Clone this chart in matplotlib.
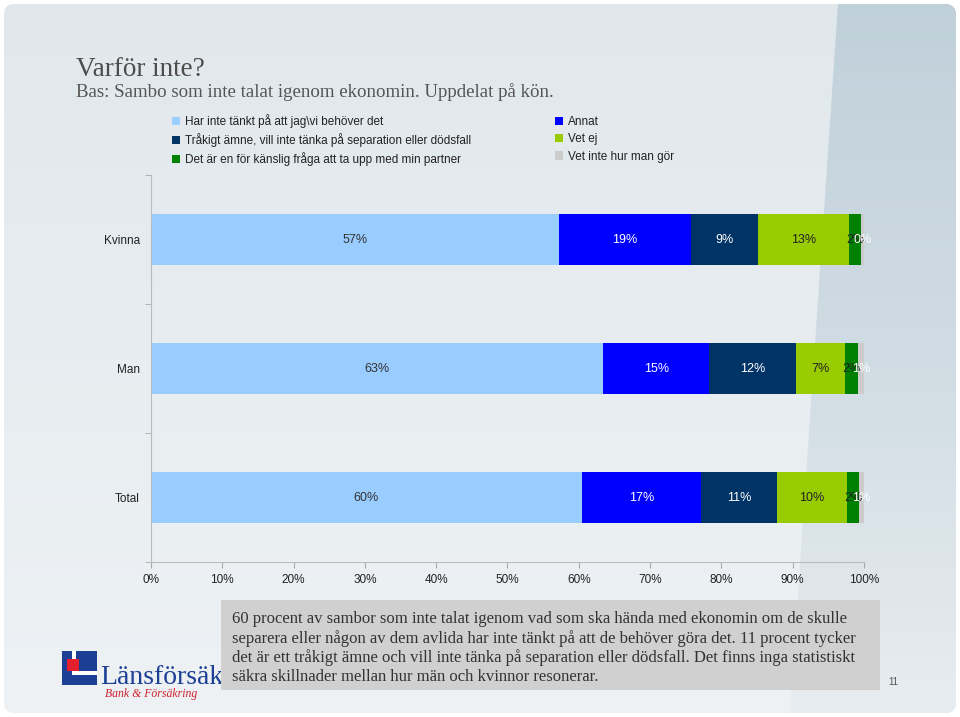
import numpy as np
import matplotlib
matplotlib.use("Agg")
import matplotlib.pyplot as plt
from matplotlib.patches import Rectangle, FancyBboxPatch, Polygon
from matplotlib.colors import LinearSegmentedColormap

plt.rcParams["font.family"] = ["Liberation Sans", "DejaVu Sans"]

# --- data -------------------------------------------------------------
groups = ["Kvinna", "Man", "Total"]
series = [
    "Har inte tänkt på att jag\\vi behöver det",
    "Annat",
    "Tråkigt ämne, vill inte tänka på separation eller dödsfall",
    "Vet ej",
    "Det är en för känslig fråga att ta upp med min partner",
    "Vet inte hur man gör",
]
har_inte = [57.2, 63.4, 60.4]
annat = [18.6, 14.9, 16.7]
trakigt = [9.3, 12.1, 10.7]
vet_ej = [12.8, 7.0, 9.8]
kanslig = [1.7, 1.8, 1.7]
vet_inte_hur = [0.4, 0.8, 0.7]
values = [har_inte, annat, trakigt, vet_ej, kanslig, vet_inte_hur]

colors = ["#99ccff", "#0000ff", "#003366", "#99cc00", "#008000", "#cccccc"]
label_colors = ["#333333", "white", "white", "#222222", "#222222", "white"]

x_ticks = list(range(0, 101, 10))

title = "Varför inte?"
subtitle = "Bas: Sambo som inte talat igenom ekonomin. Uppdelat på kön."
comment = ("60 procent av sambor som inte talat igenom vad som ska hända med ekonomin om de skulle\n"
           "separera eller någon av dem avlida har inte tänkt på att de behöver göra det. 11 procent tycker\n"
           "det är ett tråkigt ämne och vill inte tänka på separation eller dödsfall. Det finns inga statistiskt\n"
           "säkra skillnader mellan hur män och kvinnor resonerar.")

W, H = 960, 717
fig = plt.figure(figsize=(W / 100, H / 100), dpi=100)
fig.patch.set_facecolor("white")


def px(x, y):
    # pixel coords (top-left origin) -> figure fraction
    return x / W, 1 - y / H


# --- slide background ---------------------------------------------------
bg = fig.add_axes([0, 0, 1, 1], zorder=-10)
bg.axis("off")
frame = FancyBboxPatch((4, 4), W - 8, H - 8, boxstyle="round,pad=0,rounding_size=10",
                       facecolor="none", edgecolor="none")
bg.add_patch(frame)
grad = np.linspace(0, 1, 256).reshape(-1, 1)
left_img = bg.imshow(grad, cmap=LinearSegmentedColormap.from_list("l", ["#e1e8ec", "#eef2f5"]),
                     extent=[0, W, H, 0], aspect="auto", zorder=0)
left_img.set_clip_path(frame)

# right panel, with rounded outer corners
r = 10
t = np.linspace(0, np.pi / 2, 10)
top_corner = [(W - 4 - r + r * np.sin(a), 4 + r - r * np.cos(a)) for a in t]
bot_corner = [(W - 4 - r + r * np.cos(a), H - 4 - r + r * np.sin(a)) for a in t]
panel = Polygon([(838, 4)] + top_corner + bot_corner + [(790, H - 4)], closed=True,
                facecolor="none", edgecolor="none")
bg.add_patch(panel)
right_img = bg.imshow(grad, cmap=LinearSegmentedColormap.from_list(
    "r", ["#c0d0da", "#d0dce3", "#e8edf1"]), extent=[0, W, H, 0], aspect="auto", zorder=0.5)
right_img.set_clip_path(panel)
bg.set_xlim(0, W)
bg.set_ylim(H, 0)

# titles
fig.text(*px(76, 76), title, family="Liberation Serif", fontsize=19.5, color="#4d4d4d")
fig.text(*px(76, 97), subtitle, family="Liberation Serif", fontsize=13.6, color="#555555")

# --- chart ------------------------------------------------------------
ax = fig.add_axes([151 / W, 1 - 562 / H, (864 - 151) / W, (562 - 175) / H])
ax.set_facecolor("none")
y = np.arange(len(groups))
left = np.zeros(len(groups))
handles = []
for name, vals, col, lcol in zip(series, values, colors, label_colors):
    bars = ax.barh(y, vals, left=left, height=0.4, color=col, label=name)
    handles.append(bars)
    for yi, v, l in zip(y, vals, left):
        ax.text(l + v / 2, yi, f"{round(v):.0f}%", ha="center", va="center",
                fontsize=9, color=lcol)
    left = left + np.array(vals)

ax.set_xlim(0, 100)
ax.set_ylim(2.5, -0.5)
ax.set_xticks(x_ticks)
ax.set_xticklabels([f"{t}%" for t in x_ticks], fontsize=8.5, color="#222222")
ax.set_yticks(y)
ax.set_yticklabels(groups, fontsize=8.5, color="#222222")
ax.set_yticks([-0.5, 0.5, 1.5, 2.5], minor=True)
ax.tick_params(axis="y", which="major", length=0, pad=8)
ax.tick_params(axis="y", which="minor", length=4, color="#aaaaaa", direction="out")
ax.tick_params(axis="x", length=4, color="#aaaaaa", pad=4.5)
for s in ["top", "right"]:
    ax.spines[s].set_visible(False)
for s in ["left", "bottom"]:
    ax.spines[s].set_color("#bbbbbb")

# legend in two columns (column-major order)
order = [0, 2, 4, 1, 3, 5]
leg = fig.legend([handles[i] for i in order], [series[i] for i in order],
                 loc="upper left", bbox_to_anchor=px(172, 114), ncol=2,
                 frameon=False, fontsize=8.5, handlelength=0.7, handleheight=0.7,
                 handletextpad=0.4, columnspacing=7.1, labelspacing=0.45,
                 borderaxespad=0, borderpad=0)
for t in leg.get_texts():
    t.set_color("#222222")

# --- footer -------------------------------------------------------------
# logo
bg.add_patch(Rectangle((62, 651), 35, 34, facecolor="#1b3f94", edgecolor="none", zorder=2))
bg.add_patch(Rectangle((72, 651), 4, 24, facecolor="white", edgecolor="none", zorder=2))
bg.add_patch(Rectangle((72, 671), 25, 4, facecolor="white", edgecolor="none", zorder=2))
bg.add_patch(Rectangle((67, 659), 12, 12, facecolor="#e4202c", edgecolor="none", zorder=2))
fig.text(*px(100, 684), "Länsförsäkringar", family="Liberation Serif", fontsize=20,
         color="#1b3f94", zorder=1)
fig.text(*px(105, 697), "Bank & Försäkring", family="Liberation Serif", style="italic",
         fontsize=8.5, color="#d0202c", zorder=1)

box_ax = fig.add_axes([0, 0, 1, 1], zorder=5)
box_ax.set_xlim(0, W)
box_ax.set_ylim(H, 0)
box_ax.axis("off")
box_ax.add_patch(Rectangle((221, 600), 659, 90, facecolor="#d0d0d0", edgecolor="none"))
box_ax.text(232, 648, comment, family="Liberation Serif", fontsize=12, color="#333333",
            va="center", ha="left", linespacing=1.23)
box_ax.text(893, 682, "11", fontsize=7, color="#555555", ha="center", va="center")

fig.savefig("out.png", dpi=100, facecolor=fig.get_facecolor())
